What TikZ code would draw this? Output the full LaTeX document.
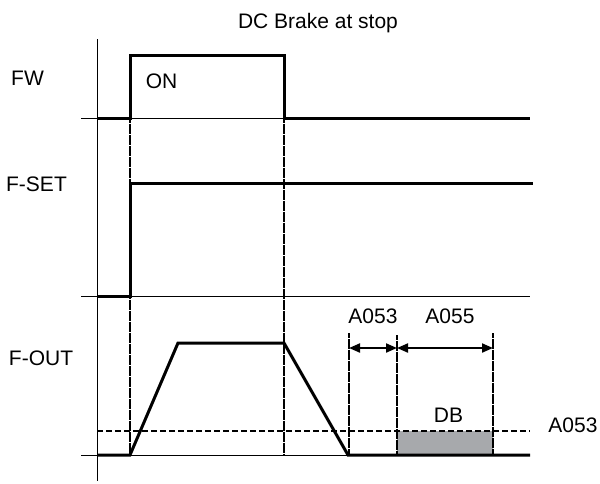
\documentclass[tikz,border=0pt]{standalone}
\usepackage{fontspec}
\setmainfont{Liberation Sans}
\usetikzlibrary{arrows.meta}
\definecolor{dbgray}{HTML}{A7A9AC}
\begin{document}
\begin{tikzpicture}[x=1pt,y=-1pt,
  lbl/.style={anchor=base,inner sep=0pt,font=\fontsize{21}{25}\selectfont},
  thin/.style={line width=1pt,black},
  sig/.style={line width=3pt,black,line join=miter},
  guide/.style={line width=1.1pt,black,dash pattern=on 0.7pt off 0.4pt},
  lvl/.style={line width=1.8pt,black,dash pattern=on 6pt off 3pt},
  dim/.style={line width=2pt,black,{Triangle[length=11pt,width=9pt]}-{Triangle[length=11pt,width=9pt]}}]
\useasboundingbox (0,0) rectangle (600,483);
% labels
\node[lbl] (title) at (318,28) {DC Brake at stop};
\node[lbl] (fw) at (27.5,85) {FW};
\node[lbl] (fset) at (36.5,191) {F-SET};
\node[lbl] (fout) at (41,365) {F-OUT};
\node[lbl] (on) at (161.5,88) {ON};
% axis and baselines
\coordinate (axT) at (97,39);
\coordinate (axB) at (97,481);
\draw[thin] (axT) -- (axB);
\draw[thin] (81,118) -- (530,118);
\draw[thin] (81,296) -- (530,296);
\draw[thin] (81,455) -- (530,455);
% gray DB area
\fill[dbgray] (397,431) rectangle (493,455);
% dashed level
\coordinate (lvlL) at (97,431);
\coordinate (lvlR) at (530,431);
\draw[lvl] (lvlL) -- (lvlR);
% guides
\draw[guide] (130,118) -- (130,455);
\draw[guide] (284,118) -- (284,455);
\coordinate (g1t) at (349,333); \coordinate (g1b) at (349,455);
\coordinate (g2t) at (397,335); \coordinate (g2b) at (397,455);
\coordinate (g3t) at (493,333); \coordinate (g3b) at (493,455);
\draw[guide] (g1t) -- (g1b);
\draw[guide] (g2t) -- (g2b);
\draw[guide] (g3t) -- (g3b);
% signals
\draw[sig] (97,118) -- (130,118) -- (130,55) -- (284,55) -- (284,118) -- (530,118);
\draw[sig] (97,296) -- (130,296) -- (130,183) -- (533,183);
\draw[sig] (97,455) -- (130,455) -- (178,343) -- (284,343) -- (348,455) -- (530,455);
% dimension arrows
\coordinate (a1) at (349,348); \coordinate (a2) at (397,348); \coordinate (a3) at (493,348);
\draw[dim] (a1) -- (a2);
\draw[dim] (a2) -- (a3);
\node[lbl] (t1) at (373,323) {A053};
\node[lbl] (t2) at (450,323) {A055};
\node[lbl] (db) at (448.5,422) {DB};
\node[lbl] (t3) at (573,432) {A053};
\end{tikzpicture}
\end{document}
